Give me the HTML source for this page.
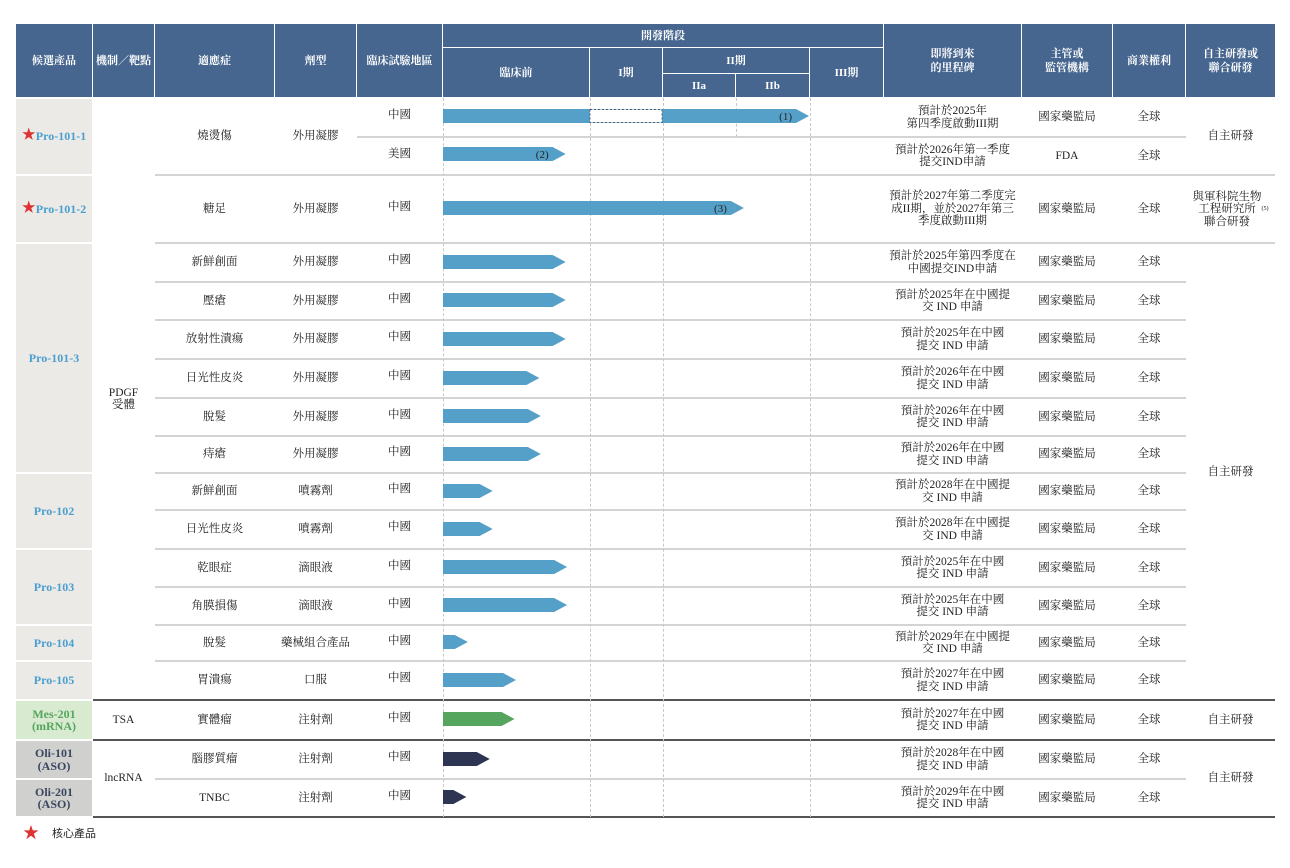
<!DOCTYPE html>
<html><head><meta charset="utf-8">
<style>
html,body{margin:0;padding:0;background:#fff;}
#root{position:relative;width:1290px;height:868px;overflow:hidden;font-family:"Liberation Serif","Noto Serif CJK SC",serif;color:#222;}
.a{position:absolute;box-sizing:border-box;}
.hd{background:#46668f;color:#fff;font-weight:bold;font-size:11px;display:flex;align-items:center;justify-content:center;text-align:center;line-height:14px;}
.t{position:absolute;display:flex;align-items:center;justify-content:center;text-align:center;font-size:11.5px;line-height:12.5px;white-space:nowrap;}
.pn{font-weight:bold;font-size:12px;color:#4a9fd0;}
</style></head><body>
<div id="root"></div>
<script>
// ---- data ----
const rowY=[98,137,175,243,282,320,359,398,436,473,510,549,587,625,661,700,740,779,817];
const indications=["燒燙傷","","糖足","新鮮創面","壓瘡","放射性潰瘍","日光性皮炎","脫髮","痔瘡","新鮮創面","日光性皮炎","乾眼症","角膜損傷","脫髮","胃潰瘍","實體瘤","腦膠質瘤","TNBC"];
const forms=["外用凝膠","","外用凝膠","外用凝膠","外用凝膠","外用凝膠","外用凝膠","外用凝膠","外用凝膠","噴霧劑","噴霧劑","滴眼液","滴眼液","藥械組合產品","口服","注射劑","注射劑","注射劑"];
const regions=["中國","美國","中國","中國","中國","中國","中國","中國","中國","中國","中國","中國","中國","中國","中國","中國","中國","中國"];
// bar progress in phase units (0=start preclinical,1=end preclinical,2=end I,3=end IIa,4=end IIb,5=end III)
const progress=[4.0,0.84,3.12,0.84,0.84,0.84,0.66,0.67,0.67,0.34,0.34,0.85,0.85,0.17,0.5,0.49,0.32,0.16];
const barNotes=["(1)","(2)","(3)","","","","","","","","","","","","","","",""];
const milestones=["預計於2025年\n第四季度啟動III期","預計於2026年第一季度\n提交IND申請","預計於2027年第二季度完\n成II期，並於2027年第三\n季度啟動III期","預計於2025年第四季度在\n中國提交IND申請","預計於2025年在中國提\n交 IND 申請","預計於2025年在中國\n提交 IND 申請","預計於2026年在中國\n提交 IND 申請","預計於2026年在中國\n提交 IND 申請","預計於2026年在中國\n提交 IND 申請","預計於2028年在中國提\n交 IND 申請","預計於2028年在中國提\n交 IND 申請","預計於2025年在中國\n提交 IND 申請","預計於2025年在中國\n提交 IND 申請","預計於2029年在中國提\n交 IND 申請","預計於2027年在中國\n提交 IND 申請","預計於2027年在中國\n提交 IND 申請","預計於2028年在中國\n提交 IND 申請","預計於2029年在中國\n提交 IND 申請"];
const regulators=["國家藥監局","FDA","國家藥監局","國家藥監局","國家藥監局","國家藥監局","國家藥監局","國家藥監局","國家藥監局","國家藥監局","國家藥監局","國家藥監局","國家藥監局","國家藥監局","國家藥監局","國家藥監局","國家藥監局","國家藥監局"];
const barKinds=["b","b","b","b","b","b","b","b","b","b","b","b","b","b","b","g","d","d"];
const products=[["Pro-101-1",0,2,1],["Pro-101-2",2,3,1],["Pro-101-3",3,9,0],["Pro-102",9,11,0],["Pro-103",11,13,0],["Pro-104",13,14,0],["Pro-105",14,15,0],["Mes-201\n(mRNA)",15,16,0],["Oli-101\n(ASO)",16,17,0],["Oli-201\n(ASO)",17,18,0]];

const root=document.getElementById('root');
function box(x,y,w,h,cls,txt,name,style){
  const d=document.createElement('div');
  d.className=cls;
  d.style.left=x+'px';d.style.top=y+'px';d.style.width=w+'px';d.style.height=h+'px';
  if(style)Object.assign(d.style,style);
  if(txt!==undefined&&txt!==null){d.innerHTML=String(txt).split('\n').join('<br>');}
  
  
  root.appendChild(d);return d;
}
// phase scale
const phaseX=[443,589,662,735,809,883];
function xScale(v){const i=Math.min(Math.floor(v),4);return phaseX[i]+(phaseX[i+1]-phaseX[i])*(v-i);}
// headers
const H=[[16,76,"候選產品"],[93,61,"機制／靶點"],[155,119,"適應症"],[275,81,"劑型"],[357,85,"臨床試驗地區"],[884,137,"即將到來\n的里程碑"],[1022,90,"主管或\n監管機構"],[1113,72,"商業權利"],[1186,89,"自主研發或\n聯合研發"]];
H.forEach(h=>box(h[0],24,h[1],73,'a hd',h[2],'header-cell'));
box(443,24,440,23,'a hd','開發階段','header-development-stage');
box(443,48,146,49,'a hd','臨床前','header-preclinical');
box(590,48,72,49,'a hd','I期','header-phase-1');
box(663,48,146,25,'a hd','II期','header-phase-2');
box(663,74,72,23,'a hd','IIa','header-phase-2a');
box(736,74,73,23,'a hd','IIb','header-phase-2b');
box(810,48,73,49,'a hd','III期','header-phase-3');
[590,663,736,810].forEach(x=>box(x-1,x==736?74:48,0,x==736?23:49,'a','', 'header-dash',{borderLeft:'1px dashed #fff'}));
// product cells
products.forEach(p=>{
  const y0=rowY[p[1]]+1,y1=rowY[p[2]]-1;
  let bg='#ebeae6',col='#4a9fd0';
  if(p[0].startsWith('Mes')){bg='#d8ead0';col='#55a55e';}
  if(p[0].startsWith('Oli')){bg='#d0d0ce';col='#3a4660';}
  const d=box(16,y0,76,y1-y0,'t pn',(p[3]?'<span style="color:#d33;font-size:14px">★</span>':'')+p[0].replace('\n','<br>'),'product-'+p[0].split('\n')[0].toLowerCase(),{background:bg,color:col});
});
// mechanism
box(93,98,61,602,'t','PDGF<br>受體','mechanism-pdgf');
box(93,700,61,40,'t','TSA','mechanism-tsa');
box(93,740,61,77,'t','lncRNA','mechanism-lncrna');
// row lines
for(let i=1;i<rowY.length-1;i++){
  const y=rowY[i];
  if(i==15||i==16){box(93,y-1,1182,2,'a','','section-divider',{background:'#555'});continue;}
  let x0=155,x1=1186;
  if(i==1)x0=357;
  if(i==2||i==3)x1=1275;
  box(x0,y-1,x1-x0,2,'a','','row-line',{background:'#d4d4d4'});
}
box(93,816,1182,2,'a','','table-bottom-line',{background:'#555'});
// dashed verticals
[443,590,663,810].forEach(x=>box(x,98,0,719,'a','','phase-gridline',{borderLeft:'1px dashed #c8c8c8'}));
box(736,98,0,39,'a','','phase-gridline-iib',{borderLeft:'1px dashed #c8c8c8'});
// rows
const colors={b:'#55a0c8',g:'#55a55e',d:'#2d3552'};
for(let i=0;i<18;i++){
  const y0=rowY[i],y1=rowY[i+1];
  let iy0=y0,iy1=y1;
  if(i==0){iy1=rowY[2];}
  if(i!=1){
    if(indications[i])box(155,iy0,119,iy1-iy0,'t',indications[i],'indication');
    if(forms[i])box(275,iy0,81,iy1-iy0,'t',forms[i],'formulation');
  }
  box(357,y0,85,y1-y0-4,'t',regions[i],'trial-region');
  box(884,y0,137,y1-y0,'t',milestones[i],'milestone');
  box(1022,y0,90,y1-y0,'t',regulators[i],'regulator');
  box(1113,y0,72,y1-y0,'t','全球','commercial-rights');
  // bar
  const cy=Math.round((y0+y1)/2)-(i<2?2:1);
  const xe=xScale(progress[i]);
  const col=colors[barKinds[i]];
  const tip=13;
  const svg=document.createElementNS('http://www.w3.org/2000/svg','svg');
  svg.setAttribute('width',1290);svg.setAttribute('height',20);
  svg.style.position='absolute';svg.style.left='0';svg.style.top=(cy-7)+'px';
  
  
  const p=document.createElementNS('http://www.w3.org/2000/svg','polygon');
  p.setAttribute('points',`443,0 ${xe-tip},0 ${xe},7 ${xe-tip},14 443,14`);
  p.setAttribute('fill',col);
  
  
  svg.appendChild(p);
  if(i==0){
    const r=document.createElementNS('http://www.w3.org/2000/svg','rect');
    r.setAttribute('x',590);r.setAttribute('y',0.5);r.setAttribute('width',72);r.setAttribute('height',13);
    r.setAttribute('fill','#fff');r.setAttribute('stroke','#5a5a7a');r.setAttribute('stroke-dasharray','2,2');
    
    
    svg.appendChild(r);
  }
  if(barNotes[i]){
    const t=document.createElementNS('http://www.w3.org/2000/svg','text');
    t.setAttribute('x',xe-tip-4);t.setAttribute('y',11);t.setAttribute('text-anchor','end');
    t.setAttribute('font-size','11');t.setAttribute('fill','#222');
    t.setAttribute('font-family','Liberation Serif, serif');
    t.textContent=barNotes[i];
    
    
    svg.appendChild(t);
  }
  root.appendChild(svg);
}
// R&D column
box(1186,98,89,77,'t','自主研發','rd-self');
box(1186,176,89,67,'t','與軍科院生物<br>工程研究所<br>聯合研發<sup style="font-size:6px">(5)</sup>','rd-joint');
box(1186,244,89,456,'t','自主研發','rd-self');
box(1186,700,89,40,'t','自主研發','rd-self');
box(1186,740,89,77,'t','自主研發','rd-self');
// legend
box(20,826,22,16,'t','<span style="color:#d33;font-size:16px">★</span>','legend-star');
box(46,826,56,16,'t','核心產品','legend-core-product',{fontSize:'11px',fontFamily:'"Liberation Sans","Noto Sans CJK SC",sans-serif'});
</script>
</body></html>
